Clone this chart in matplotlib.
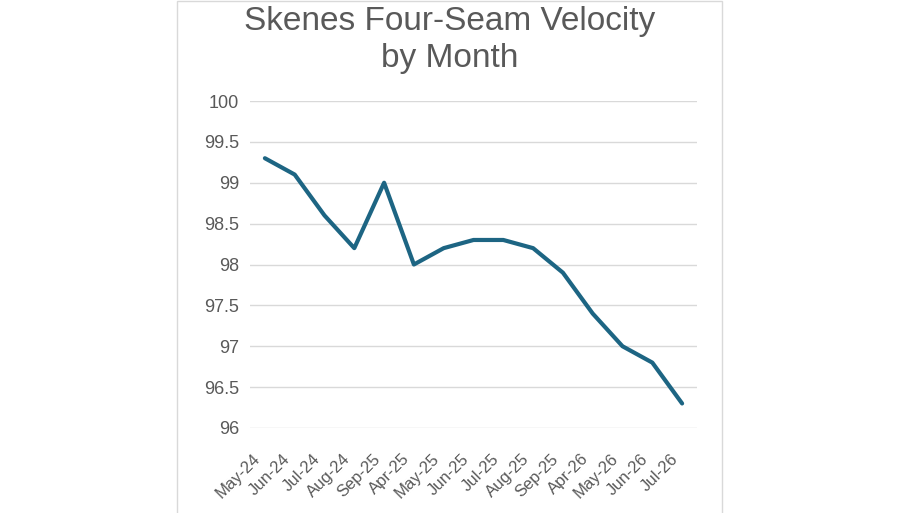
import matplotlib
matplotlib.use('Agg')
import matplotlib.pyplot as plt
import matplotlib.transforms as mtransforms
from matplotlib.patches import Rectangle

months = ['May-24', 'Jun-24', 'Jul-24', 'Aug-24', 'Sep-25', 'Apr-25', 'May-25', 'Jun-25',
          'Jul-25', 'Aug-25', 'Sep-25', 'Apr-26', 'May-26', 'Jun-26', 'Jul-26']
velocity = [99.3, 99.1, 98.6, 98.2, 99.0, 98.0, 98.2, 98.3, 98.3, 98.2, 97.9, 97.4, 97.0, 96.8, 96.3]
y_ticks = [96, 96.5, 97, 97.5, 98, 98.5, 99, 99.5, 100]
y_labels = ['96', '96.5', '97', '97.5', '98', '98.5', '99', '99.5', '100']

plt.rcParams['font.family'] = ['Liberation Sans', 'DejaVu Sans']

fig = plt.figure(figsize=(9.12, 5.13), dpi=100)
fig.patch.set_facecolor('white')

# chart frame
fig.patches.append(Rectangle((177 / 912, -0.01), (722 - 177) / 912, 1.0 - 0.002 + 0.01,
                             transform=fig.transFigure, fill=False,
                             edgecolor='#d9d9d9', linewidth=1))

ax = fig.add_axes([250 / 912, 1 - 428 / 513, (697 - 250) / 912, (428 - 101) / 513])
x = list(range(len(months)))
ax.plot(x, velocity, color='#1d6583', linewidth=3, solid_joinstyle='round',
        solid_capstyle='round', zorder=3)

ax.set_xlim(-0.5, len(months) - 0.5)
ax.set_ylim(96, 100)
ax.set_yticks(y_ticks)
ax.set_yticklabels(y_labels)
ax.set_xticks(x)
ax.set_xticklabels(months, rotation=45, ha='right', rotation_mode='anchor')
ax.tick_params(axis='both', length=0, labelcolor='#595959')
ax.tick_params(axis='y', pad=8, labelsize=13)
ax.tick_params(axis='x', pad=14, labelsize=12)
ax.grid(axis='y', color='#d9d9d9', linewidth=1)
ax.set_axisbelow(True)
for s in ax.spines.values():
    s.set_visible(False)

# nudge the slanted labels left/down like the original
offset = mtransforms.ScaledTranslation(-0.12, -0.04, fig.dpi_scale_trans)
for lbl in ax.get_xticklabels():
    lbl.set_transform(lbl.get_transform() + offset)

fig.text(449.5 / 912, 1 - 40 / 513, 'Skenes Four-Seam Velocity\nby Month', ha='center',
         va='center', fontsize=24, color='#595959', linespacing=1.25)

fig.savefig('out.png', dpi=100)
